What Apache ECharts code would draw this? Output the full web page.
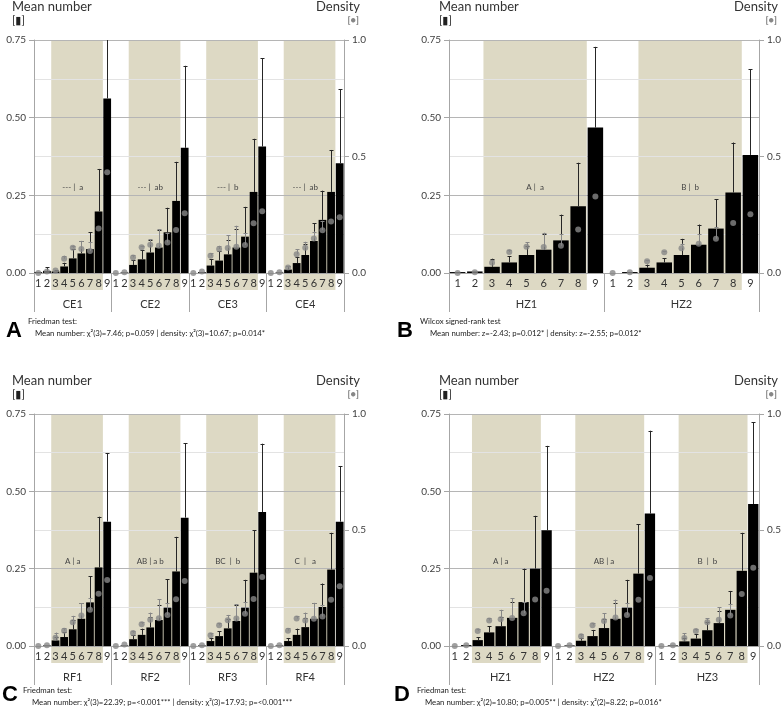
<!DOCTYPE html>
<html>
<head>
<meta charset="utf-8">
<script src="https://cdn.jsdelivr.net/npm/echarts@6/dist/echarts.min.js"></script>
<style>html,body{margin:0;padding:0;background:#fff}#fig{width:784px;height:713px}</style>
</head>
<body>
<div id="fig"></div>
<script>
// levels shown under every group
var levels = ['1', '2', '3', '4', '5', '6', '7', '8', '9'];

// A - CE
var ceGroups = ['CE1', 'CE2', 'CE3', 'CE4'];
var ceMean = [
  [0.003, 0.007, 0.005, 0.021, 0.047, 0.063, 0.077, 0.198, 0.562],
  [0.000, 0.002, 0.026, 0.044, 0.066, 0.082, 0.131, 0.232, 0.403],
  [0.000, 0.003, 0.024, 0.040, 0.060, 0.082, 0.117, 0.261, 0.407],
  [0.000, 0.002, 0.011, 0.032, 0.058, 0.103, 0.171, 0.261, 0.353]
];
var ceMeanErr = [
  [0, 0.011, 0.004, 0.012, 0.030, 0.040, 0.055, 0.137, 0.300],
  [0, 0, 0.015, 0.030, 0.040, 0.055, 0.079, 0.126, 0.264],
  [0, 0, 0.020, 0.030, 0.045, 0.060, 0.096, 0.171, 0.285],
  [0, 0, 0.010, 0.020, 0.035, 0.057, 0.094, 0.135, 0.238]
];
var ceDens = [
  [0.000, 0.006, 0.011, 0.061, 0.108, 0.103, 0.094, 0.191, 0.432],
  [0.000, 0.003, 0.067, 0.111, 0.121, 0.117, 0.131, 0.185, 0.256],
  [0.000, 0.006, 0.074, 0.103, 0.107, 0.113, 0.120, 0.214, 0.265],
  [0.000, 0.003, 0.024, 0.081, 0.108, 0.148, 0.184, 0.221, 0.239]
];
var ceDensErr = [
  [0, 0, 0, 0.013, 0.010, 0.035, 0.040, 0, 0],
  [0, 0, 0.010, 0.006, 0.023, 0.070, 0.040, 0, 0],
  [0, 0, 0.010, 0.014, 0.055, 0.090, 0.050, 0, 0],
  [0, 0, 0.005, 0.020, 0.026, 0.030, 0.040, 0, 0]
];
var ceNotes = ['--- |  a', '--- |  ab', '--- |  b', '--- |  ab'];

// B - HZ (Wilcox)
var hzGroups = ['HZ1', 'HZ2'];
var hzMean = [
  [0.003, 0.005, 0.020, 0.034, 0.058, 0.075, 0.105, 0.215, 0.468],
  [0.000, 0.003, 0.017, 0.034, 0.058, 0.091, 0.143, 0.259, 0.380]
];
var hzMeanErr = [
  [0, 0, 0.026, 0.020, 0.030, 0.050, 0.083, 0.140, 0.260],
  [0, 0, 0.010, 0.014, 0.052, 0.065, 0.094, 0.161, 0.276]
];
var hzDens = [
  [0.000, 0.003, 0.044, 0.090, 0.113, 0.112, 0.117, 0.187, 0.328],
  [0.000, 0.003, 0.050, 0.089, 0.106, 0.126, 0.147, 0.215, 0.252]
];
var hzDensErr = [
  [0, 0, 0.010, 0.010, 0.020, 0.061, 0.050, 0, 0],
  [0, 0, 0.005, 0.005, 0.020, 0.040, 0.050, 0, 0]
];
var hzNotes = ['A |  a', 'B |  b'];

// C - RF
var rfGroups = ['RF1', 'RF2', 'RF3', 'RF4'];
var rfMean = [
  [0.000, 0.002, 0.018, 0.029, 0.054, 0.088, 0.141, 0.254, 0.402],
  [0.000, 0.002, 0.022, 0.036, 0.060, 0.084, 0.124, 0.241, 0.415],
  [0.000, 0.002, 0.016, 0.032, 0.057, 0.081, 0.124, 0.237, 0.433],
  [0.000, 0.002, 0.016, 0.036, 0.061, 0.088, 0.126, 0.247, 0.402]
];
var rfMeanErr = [
  [0, 0, 0.010, 0.015, 0.030, 0.050, 0.085, 0.164, 0.222],
  [0, 0, 0.012, 0.020, 0.035, 0.050, 0.092, 0.112, 0.240],
  [0, 0, 0.010, 0.015, 0.030, 0.050, 0.090, 0.138, 0.221],
  [0, 0, 0.010, 0.020, 0.030, 0.050, 0.076, 0.119, 0.180]
];
var rfDens = [
  [0.000, 0.003, 0.036, 0.066, 0.102, 0.131, 0.156, 0.225, 0.284],
  [0.000, 0.006, 0.056, 0.094, 0.113, 0.120, 0.134, 0.202, 0.280],
  [0.000, 0.003, 0.046, 0.089, 0.111, 0.118, 0.139, 0.203, 0.297],
  [0.000, 0.003, 0.066, 0.118, 0.110, 0.117, 0.127, 0.199, 0.258]
];
var rfDensErr = [
  [0, 0, 0.022, 0.010, 0.028, 0.054, 0.050, 0, 0],
  [0, 0, 0.010, 0.010, 0.031, 0.082, 0.050, 0, 0],
  [0, 0, 0.010, 0.010, 0.023, 0.062, 0.050, 0, 0],
  [0, 0, 0.010, 0.010, 0.034, 0.069, 0.050, 0, 0]
];
var rfNotes = ['A | a', 'AB | a b', 'BC  |  b', 'C  |   a'];

// D - HZ (Friedman)
var hz3Groups = ['HZ1', 'HZ2', 'HZ3'];
var hz3Mean = [
  [0.000, 0.003, 0.019, 0.044, 0.064, 0.091, 0.142, 0.250, 0.374],
  [0.000, 0.002, 0.017, 0.032, 0.058, 0.088, 0.124, 0.234, 0.428],
  [0.000, 0.002, 0.015, 0.024, 0.051, 0.074, 0.117, 0.243, 0.459]
];
var hz3MeanErr = [
  [0, 0, 0.010, 0.020, 0.030, 0.050, 0.108, 0.171, 0.273],
  [0, 0, 0.010, 0.020, 0.030, 0.050, 0.090, 0.159, 0.268],
  [0, 0, 0.010, 0.015, 0.025, 0.040, 0.061, 0.123, 0.265]
];
var hz3Dens = [
  [0.000, 0.003, 0.065, 0.110, 0.115, 0.121, 0.141, 0.200, 0.238],
  [0.000, 0.003, 0.042, 0.089, 0.108, 0.123, 0.134, 0.199, 0.293],
  [0.000, 0.003, 0.035, 0.065, 0.102, 0.113, 0.131, 0.224, 0.337]
];
var hz3DensErr = [
  [0, 0, 0.010, 0.010, 0.041, 0.085, 0.050, 0, 0],
  [0, 0, 0.010, 0.010, 0.033, 0.077, 0.050, 0, 0],
  [0, 0, 0.020, 0.010, 0.018, 0.053, 0.050, 0, 0]
];
var hz3Notes = ['A | a', 'AB | a', 'B  |  b'];

var FONT = 'Lato, "DejaVu Sans", sans-serif';
var BEIGE = '#ddd9c4';
var DOT = '#878787';
var AXIS = '#a6a6a6';

var panels = [
  { groups: ceGroups, mean: ceMean, meanErr: ceMeanErr, dens: ceDens, densErr: ceDensErr, notes: ceNotes,
    left: 34, right: 440, top: 40, height: 233, noteShift: 0,
    letter: 'A', lx: 6, ly: 331, head: [12, 360],
    test: 'Friedman test:', t1: [28, 321], t2: [35, 333],
    stat: 'Mean number: \u03c7\u00b2(3)=7.46; p=0.059 | density: \u03c7\u00b2(3)=10.67; p=0.014*' },
  { groups: hzGroups, mean: hzMean, meanErr: hzMeanErr, dens: hzDens, densErr: hzDensErr, notes: hzNotes,
    left: 449, right: 25, top: 40, height: 233, noteShift: 0.5,
    letter: 'B', lx: 397, ly: 331, head: [439, 778],
    test: 'Wilcox signed-rank test', t1: [420, 321], t2: [430, 333],
    stat: 'Mean number: z=-2.43; p=0.012* | density: z=-2.55; p=0.012*' },
  { groups: rfGroups, mean: rfMean, meanErr: rfMeanErr, dens: rfDens, densErr: rfDensErr, notes: rfNotes,
    left: 34, right: 440, top: 414, height: 232, noteShift: 0,
    letter: 'C', lx: 2, ly: 695, head: [12, 360],
    test: 'Friedman test:', t1: [23, 690], t2: [32, 702],
    stat: 'Mean number: \u03c7\u00b2(3)=22.39; p=<0.001*** | density: \u03c7\u00b2(3)=17.93; p=<0.001***' },
  { groups: hz3Groups, mean: hz3Mean, meanErr: hz3MeanErr, dens: hz3Dens, densErr: hz3DensErr, notes: hz3Notes,
    left: 449, right: 25, top: 414, height: 232, noteShift: 0,
    letter: 'D', lx: 394, ly: 695, head: [439, 778],
    test: 'Friedman test:', t1: [417, 690], t2: [425, 702],
    stat: 'Mean number: \u03c7\u00b2(2)=10.80; p=0.005** | density: \u03c7\u00b2(2)=8.22; p=0.016*' }
];

function errRender(color) {
  return function (params, api) {
    var x = api.value(0), v = api.value(1), e = api.value(2);
    if (!(e > 0)) return null;
    var cs = params.coordSys;
    var p0 = api.coord([x, v]);
    var p1 = api.coord([x, v + e]);
    var cx = Math.round(p0[0]) + 0.5;
    var top = Math.max(p1[1], cs.y);
    var kids = [{ type: 'line', shape: { x1: cx, y1: p0[1], x2: cx, y2: top }, style: { stroke: color, lineWidth: 1 } }];
    if (p1[1] >= cs.y) {
      kids.push({ type: 'line', shape: { x1: cx - 2, y1: Math.round(top) + 0.5, x2: cx + 2, y2: Math.round(top) + 0.5 }, style: { stroke: color, lineWidth: 1 } });
    }
    return { type: 'group', children: kids };
  };
}

function bandRender(params, api) {
  var cs = params.coordSys;
  var a = api.coord([api.value(0), 0]);
  var b = api.coord([api.value(1), 0]);
  var w = api.size([1, 0])[0];
  return { type: 'rect', shape: { x: a[0] - w / 2, y: cs.y, width: b[0] - a[0] + w, height: cs.height + 17 },
           style: { fill: BEIGE } };
}

var grids = [], xAxes = [], yAxes = [], series = [], graphics = [];

panels.forEach(function (p, i) {
  grids.push({ left: p.left, right: p.right, top: p.top, height: p.height });
  var cats = [];
  p.groups.forEach(function (g) { levels.forEach(function (l) { cats.push(g + '|' + l); }); });

  xAxes.push({
    type: 'category', gridIndex: i, data: cats, position: 'bottom',
    axisLine: { show: true, lineStyle: { color: AXIS } },
    axisTick: { show: false },
    axisLabel: { interval: 0, margin: 5, fontSize: 11, color: '#333',
      formatter: function (v) { return v.split('|')[1]; } }
  });
  xAxes.push({
    type: 'category', gridIndex: i, data: p.groups, position: 'bottom',
    axisLine: { show: false },
    axisTick: { show: true, length: 39, lineStyle: { color: AXIS } },
    axisLabel: { margin: 26, fontSize: 11, color: '#333' },
    splitLine: { show: false }
  });
  yAxes.push({
    type: 'value', gridIndex: i, position: 'left', min: 0, max: 0.75, interval: 0.25,
    axisLine: { show: true, lineStyle: { color: AXIS } },
    axisTick: { show: true, length: 5, lineStyle: { color: AXIS } },
    axisLabel: { fontSize: 10, color: '#404040', margin: 8, formatter: function (v) { return v.toFixed(2); } },
    splitLine: { show: true, lineStyle: { color: '#b5b5b5' } },
    minorTick: { show: false, splitNumber: 2 },
    minorSplitLine: { show: true, lineStyle: { color: '#e3e3e3' } }
  });
  yAxes.push({
    type: 'value', gridIndex: i, position: 'right', min: 0, max: 1, interval: 0.5,
    axisLine: { show: true, lineStyle: { color: AXIS } },
    axisTick: { show: true, length: 5, lineStyle: { color: AXIS } },
    axisLabel: { fontSize: 10, color: '#404040', margin: 8, formatter: function (v) { return v.toFixed(1); } },
    splitLine: { show: false }
  });

  var xi = i * 2, yl = i * 2, yr = i * 2 + 1;
  var bands = [], barData = [], barErr = [], dotData = [], dotErr = [], noteData = [];
  p.groups.forEach(function (g, gi) {
    var base = gi * levels.length;
    bands.push([base + 2, base + 7, 0]);
    noteData.push([base + 4, 0.275]);
    levels.forEach(function (l, li) {
      barData.push(p.mean[gi][li]);
      barErr.push([base + li, p.mean[gi][li], p.meanErr[gi][li]]);
      dotData.push([base + li, p.dens[gi][li]]);
      dotErr.push([base + li, p.dens[gi][li], p.densErr[gi][li]]);
    });
  });

  series.push({ type: 'custom', xAxisIndex: xi, yAxisIndex: yl, z: -1, silent: true, clip: false,
    renderItem: bandRender, encode: { x: [0, 1], y: 2 }, data: bands });
  series.push({ type: 'bar', xAxisIndex: xi, yAxisIndex: yl, barCategoryGap: '10%', silent: true,
    itemStyle: { color: '#000' }, data: barData });
  series.push({ type: 'custom', xAxisIndex: xi, yAxisIndex: yl, z: 3, silent: true,
    renderItem: errRender('#262626'), encode: { x: 0, y: 1 }, data: barErr });
  series.push({ type: 'custom', xAxisIndex: xi, yAxisIndex: yr, z: 4, silent: true,
    renderItem: errRender(DOT), encode: { x: 0, y: 1 }, data: dotErr });
  series.push({ type: 'scatter', xAxisIndex: xi, yAxisIndex: yr, z: 5, silent: true,
    symbolSize: 6, itemStyle: { color: DOT }, data: dotData });
  series.push({ type: 'custom', xAxisIndex: xi, yAxisIndex: yl, z: 6, silent: true,
    encode: { x: 0, y: 1 }, data: noteData,
    renderItem: (function (notes, shift) {
      return function (params, api) {
        var c = api.coord([api.value(0), api.value(1)]);
        var w = api.size([1, 0])[0];
        return { type: 'text', x: c[0] + shift * w, y: c[1],
          style: { text: notes[params.dataIndex], textAlign: 'center', textVerticalAlign: 'middle',
                   font: '8px ' + FONT, fill: '#444' } };
      };
    })(p.notes, p.noteShift) });

  // headers, panel letter and test footnote
  var hy = p.top - 33;
  graphics.push({ type: 'text', x: p.head[0], y: hy, style: { text: 'Mean number', font: '13px ' + FONT, fill: '#333', textVerticalAlign: 'middle' } });
  graphics.push({ type: 'text', x: p.head[0], y: hy + 13, style: { text: '[\u25ae]', font: '11px ' + FONT, fill: '#222', textVerticalAlign: 'middle' } });
  graphics.push({ type: 'text', x: p.head[1], y: hy, style: { text: 'Density', font: '13px ' + FONT, fill: '#333', textAlign: 'right', textVerticalAlign: 'middle' } });
  graphics.push({ type: 'text', x: p.head[1] - 1, y: hy + 13, style: { text: '[{d|\u25cf}]', font: '10px ' + FONT, fill: '#555', textAlign: 'right', textVerticalAlign: 'middle',
    rich: { d: { fill: DOT, font: '9px ' + FONT } } } });
  graphics.push({ type: 'text', x: p.lx, y: p.ly, style: { text: p.letter, font: 'bold 22px "Liberation Sans", Arial, sans-serif', fill: '#000', textVerticalAlign: 'middle' } });
  graphics.push({ type: 'text', x: p.t1[0], y: p.t1[1], style: { text: p.test, font: '7.8px ' + FONT, fill: '#222', textVerticalAlign: 'middle' } });
  graphics.push({ type: 'text', x: p.t2[0], y: p.t2[1], style: { text: p.stat, font: '7.8px ' + FONT, fill: '#222', textVerticalAlign: 'middle' } });
});

var chart = echarts.init(document.getElementById('fig'), null, { renderer: 'canvas' });
chart.setOption({
  animation: false,
  backgroundColor: '#fff',
  textStyle: { fontFamily: FONT },
  grid: grids,
  xAxis: xAxes,
  yAxis: yAxes,
  series: series,
  graphic: graphics
});
</script>
</body>
</html>
